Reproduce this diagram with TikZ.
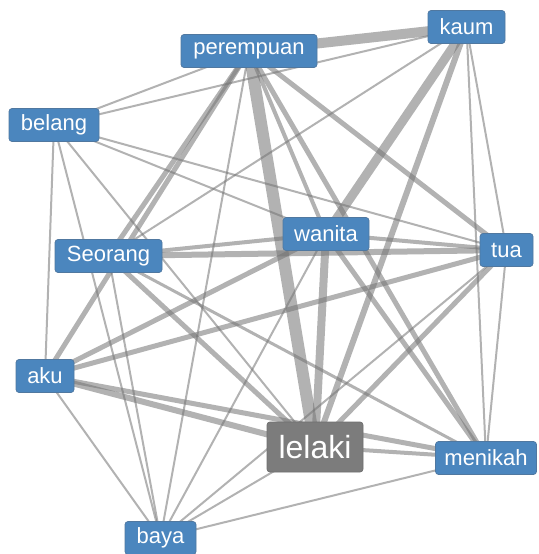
\documentclass[tikz,border=0pt]{standalone}
\usepackage{fontspec}
\setmainfont{Liberation Sans}
\pgfdeclarelayer{bg}
\pgfsetlayers{bg,main}
\definecolor{nodeblue}{RGB}{75,134,190}
\definecolor{nodeedge}{RGB}{80,120,160}
\definecolor{hubgray}{RGB}{124,124,124}
\definecolor{hubedge}{RGB}{110,110,110}
\definecolor{linkgray}{RGB}{115,115,115}
\begin{document}
\begin{tikzpicture}[x=1pt,y=-1pt,
  word/.style={draw=nodeedge, line width=0.7pt, fill=nodeblue, rounded corners=3pt, text=white,
    font=\fontsize{22}{24}\selectfont, inner sep=0pt, minimum height=33pt},
  hub/.style={word, fill=hubgray, draw=hubedge, font=\fontsize{32}{34}\selectfont, minimum height=50pt},
  link/.style={draw=linkgray, opacity=0.55, line width=#1}]
\useasboundingbox (0,0) rectangle (538,554);

\node[word, minimum width=136pt] (P) at (249,51) {perempuan};
\node[word, minimum width=77pt] (K) at (466.5,27) {kaum};
\node[word, minimum width=90pt] (B) at (54,125) {belang};
\node[word, minimum width=107pt] (S) at (108.5,256) {Seorang};
\node[word, minimum width=86pt] (W) at (326,234) {wanita};
\node[word, minimum width=53pt] (T) at (506.5,250) {tua};
\node[word, minimum width=58pt] (A) at (45,376) {aku};
\node[hub, minimum width=96pt] (L) at (315,447) {lelaki};
\node[word, minimum width=101pt] (M) at (486,458) {menikah};
\node[word, minimum width=71pt] (Y) at (160.5,538) {baya};

\begin{pgfonlayer}{bg}
\draw[link=10pt] (P.center) -- (K.center);
\draw[link=2pt] (P.center) -- (B.center);
\draw[link=5pt] (P.center) -- (S.center);
\draw[link=5pt] (P.center) -- (A.center);
\draw[link=2pt] (P.center) -- (Y.center);
\draw[link=12pt] (P.center) -- (L.center);
\draw[link=4pt] (P.center) -- (W.center);
\draw[link=5pt] (P.center) -- (T.center);
\draw[link=5pt] (P.center) -- (M.center);
\draw[link=2pt] (K.center) -- (B.center);
\draw[link=2pt] (K.center) -- (S.center);
\draw[link=9pt] (K.center) -- (W.center);
\draw[link=6pt] (K.center) -- (L.center);
\draw[link=2pt] (K.center) -- (T.center);
\draw[link=2pt] (K.center) -- (M.center);
\draw[link=2pt] (B.center) -- (W.center);
\draw[link=2pt] (B.center) -- (T.center);
\draw[link=2pt] (B.center) -- (L.center);
\draw[link=2pt] (B.center) -- (A.center);
\draw[link=2pt] (B.center) -- (Y.center);
\draw[link=4pt] (S.center) -- (W.center);
\draw[link=6pt] (S.center) -- (T.center);
\draw[link=5pt] (S.center) -- (L.center);
\draw[link=3pt] (S.center) -- (M.center);
\draw[link=2pt] (S.center) -- (Y.center);
\draw[link=5pt] (W.center) -- (A.center);
\draw[link=8pt] (W.center) -- (L.center);
\draw[link=5pt] (W.center) -- (M.center);
\draw[link=4pt] (W.center) -- (T.center);
\draw[link=2pt] (W.center) -- (Y.center);
\draw[link=5pt] (A.center) -- (T.center);
\draw[link=6pt] (A.center) -- (L.center);
\draw[link=5pt] (A.center) -- (M.center);
\draw[link=2pt] (A.center) -- (Y.center);
\draw[link=5pt] (L.center) -- (T.center);
\draw[link=4pt] (L.center) -- (M.center);
\draw[link=2pt] (L.center) -- (Y.center);
\draw[link=2pt] (T.center) -- (M.center);
\draw[link=2pt] (T.center) -- (Y.center);
\draw[link=2pt] (M.center) -- (Y.center);
\end{pgfonlayer}
\end{tikzpicture}
\end{document}
